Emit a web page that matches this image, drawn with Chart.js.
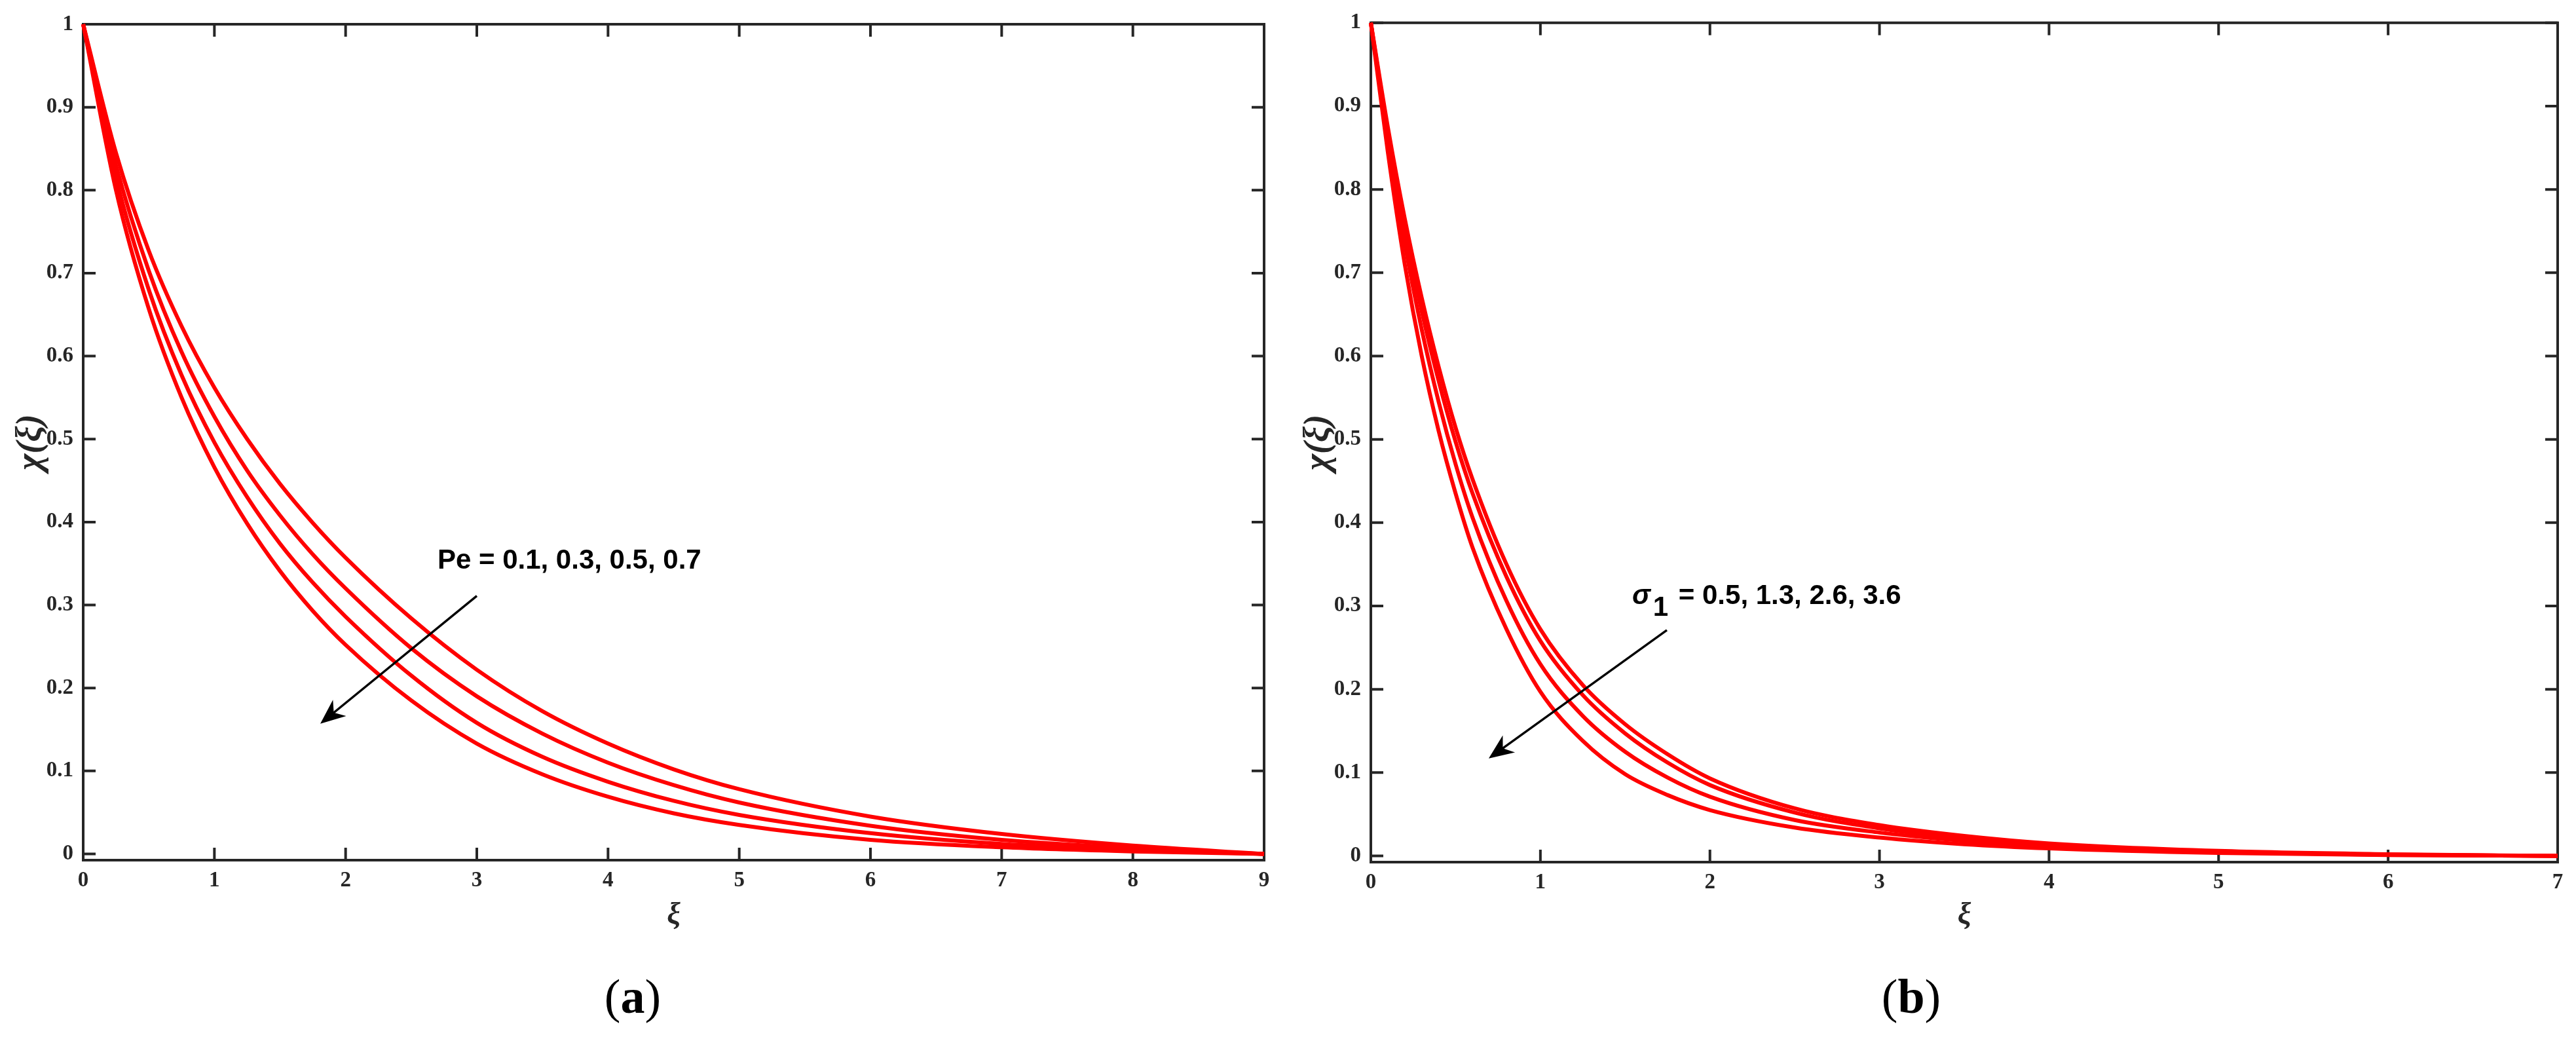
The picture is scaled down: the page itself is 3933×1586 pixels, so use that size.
<!DOCTYPE html>
<html>
<head>
<meta charset="utf-8">
<script src="https://cdn.jsdelivr.net/npm/chart.js@4.4.1/dist/chart.umd.min.js"></script>
<style>
  html, body { margin: 0; padding: 0; background: #fff; }
  body { width: 3933px; height: 1586px; position: relative; overflow: hidden; }
  canvas { position: absolute; top: 0; }
  .caption { position: absolute; top: 1484px; line-height: 1; font-family: "Liberation Serif", serif; font-size: 74px; color: #000; transform: translateX(-50%); }
</style>
</head>
<body>
<canvas id="chartA" width="1966" height="1586" style="left:0"></canvas>
<canvas id="chartB" width="1967" height="1586" style="left:1966px"></canvas>
<div class="caption" style="left:966px">(<b>a</b>)</div>
<div class="caption" style="left:2918px">(<b>b</b>)</div>
<script>
// panel (a): chi(xi) for Pe = 0.1, 0.3, 0.5, 0.7
const xiA = [0, 0.25, 0.5, 0.75, 1, 1.25, 1.5, 1.75, 2, 2.5, 3, 3.5, 4, 4.5, 5, 6, 7, 8, 9];
const chiPe01 = [1, 0.845, 0.727, 0.636, 0.562, 0.500, 0.446, 0.399, 0.357, 0.284, 0.222, 0.172, 0.133, 0.102, 0.078, 0.045, 0.024, 0.010, 0];
const chiPe03 = [1, 0.830, 0.703, 0.605, 0.527, 0.462, 0.408, 0.361, 0.320, 0.248, 0.190, 0.145, 0.110, 0.083, 0.062, 0.034, 0.017, 0.007, 0];
const chiPe05 = [1, 0.815, 0.680, 0.577, 0.496, 0.430, 0.374, 0.327, 0.286, 0.215, 0.158, 0.117, 0.087, 0.064, 0.047, 0.025, 0.012, 0.005, 0];
const chiPe07 = [1, 0.800, 0.657, 0.550, 0.466, 0.398, 0.341, 0.293, 0.252, 0.185, 0.133, 0.096, 0.069, 0.049, 0.035, 0.017, 0.008, 0.003, 0];

// panel (b): chi(xi) for sigma1 = 0.5, 1.3, 2.6, 3.6
const xiB = [0, 0.1, 0.2, 0.3, 0.4, 0.5, 0.6, 0.8, 1.0, 1.25, 1.5, 1.75, 2.0, 2.5, 3.0, 3.5, 4, 5, 6, 7];
const chiS05 = [1, 0.875, 0.765, 0.670, 0.587, 0.514, 0.452, 0.350, 0.272, 0.205, 0.158, 0.122, 0.093, 0.057, 0.037, 0.024, 0.015, 0.006, 0.002, 0];
const chiS13 = [1, 0.868, 0.752, 0.654, 0.570, 0.497, 0.435, 0.335, 0.258, 0.193, 0.147, 0.112, 0.085, 0.052, 0.033, 0.021, 0.013, 0.005, 0.0015, 0];
const chiS26 = [1, 0.858, 0.735, 0.632, 0.545, 0.470, 0.406, 0.306, 0.230, 0.168, 0.125, 0.094, 0.071, 0.043, 0.028, 0.018, 0.011, 0.0045, 0.0012, 0];
const chiS36 = [1, 0.845, 0.710, 0.600, 0.510, 0.435, 0.370, 0.272, 0.197, 0.138, 0.098, 0.073, 0.055, 0.034, 0.022, 0.014, 0.009, 0.0035, 0.001, 0];

// tick labels
const yTicks = [0, 0.1, 0.2, 0.3, 0.4, 0.5, 0.6, 0.7, 0.8, 0.9, 1];
const xTicksA = [0, 1, 2, 3, 4, 5, 6, 7, 8, 9];
const xTicksB = [0, 1, 2, 3, 4, 5, 6, 7];

// annotation text + arrow, in data units
const noteA = { parts: [{ t: 'Pe = 0.1, 0.3, 0.5, 0.7' }], at: [2.70, 0.344], from: [3.0, 0.311], to: [1.807, 0.157] };
const noteB = { parts: [{ t: 'σ', italic: true }, { t: '1', dy: 18, gap: 4 }, { t: ' = 0.5, 1.3, 2.6, 3.6', gap: 4 }], at: [1.541, 0.302], from: [1.746, 0.271], to: [0.695, 0.117] };

const AXIS = '#262626';
const RED = '#ff0000';
const TICK = 19;
const serif = '"Liberation Serif", "Times New Roman", serif';
const sans = '"Liberation Sans", Arial, sans-serif';

const fmt = v => Number(v.toFixed(1)).toString();

// matlab-like box with inward ticks on all four sides, plus the arrow note
const boxAndNote = {
  id: 'boxAndNote',
  beforeDatasetsDraw(chart) {
    const { ctx, chartArea: a, scales: { x, y } } = chart;
    ctx.save();
    ctx.strokeStyle = AXIS;
    ctx.lineWidth = 4;
    ctx.strokeRect(a.left, a.top, a.right - a.left, a.bottom - a.top);
    ctx.beginPath();
    x.ticks.forEach(t => {
      const px = x.getPixelForValue(t.value);
      ctx.moveTo(px, a.bottom); ctx.lineTo(px, a.bottom - TICK);
      ctx.moveTo(px, a.top); ctx.lineTo(px, a.top + TICK);
    });
    y.ticks.forEach(t => {
      const py = y.getPixelForValue(t.value);
      ctx.moveTo(a.left, py); ctx.lineTo(a.left + TICK, py);
      ctx.moveTo(a.right, py); ctx.lineTo(a.right - TICK, py);
    });
    ctx.stroke();
    ctx.restore();
  },
  afterDatasetsDraw(chart, args, opts) {
    const note = opts.note;
    if (!note) return;
    const { ctx, scales: { x, y } } = chart;
    ctx.save();
    // arrow
    const x0 = x.getPixelForValue(note.from[0]), y0 = y.getPixelForValue(note.from[1]);
    const x1 = x.getPixelForValue(note.to[0]), y1 = y.getPixelForValue(note.to[1]);
    const ang = Math.atan2(y1 - y0, x1 - x0);
    const L = 38, W = 16;
    const c = Math.cos(ang), s = Math.sin(ang);
    ctx.strokeStyle = '#000';
    ctx.fillStyle = '#000';
    ctx.lineWidth = 3.5;
    ctx.beginPath();
    ctx.moveTo(x0, y0);
    ctx.lineTo(x1 - c * L * 0.6, y1 - s * L * 0.6);
    ctx.stroke();
    ctx.beginPath();
    ctx.moveTo(x1, y1);
    ctx.lineTo(x1 - c * L - s * W, y1 - s * L + c * W);
    ctx.lineTo(x1 - c * L * 0.7, y1 - s * L * 0.7);
    ctx.lineTo(x1 - c * L + s * W, y1 - s * L - c * W);
    ctx.closePath();
    ctx.fill();
    // label
    let tx = x.getPixelForValue(note.at[0]);
    const ty = y.getPixelForValue(note.at[1]);
    ctx.textBaseline = 'alphabetic';
    ctx.textAlign = 'left';
    note.parts.forEach(p => {
      ctx.font = (p.italic ? 'italic ' : '') + 'bold 42px ' + sans;
      tx += p.gap || 0;
      ctx.fillText(p.t, tx, ty + (p.dy || 0));
      tx += ctx.measureText(p.t).width;
    });
    ctx.restore();
  }
};

function makeChart(id, xi, series, xTicks, xMax, pad, xAxisHeight, note) {
  return new Chart(document.getElementById(id), {
    type: 'line',
    data: {
      datasets: series.map(arr => ({
        data: xi.map((v, i) => ({ x: v, y: arr[i] })),
        borderColor: RED,
        borderWidth: 6,
        pointRadius: 0,
        cubicInterpolationMode: 'monotone',
        fill: false,
        clip: false
      }))
    },
    options: {
      responsive: false,
      animation: false,
      events: [],
      layout: { padding: pad },
      plugins: { legend: { display: false }, tooltip: { enabled: false }, boxAndNote: { note } },
      scales: {
        x: {
          type: 'linear',
          min: 0,
          max: xMax,
          afterBuildTicks: s => { s.ticks = xTicks.map(v => ({ value: v })); },
          afterFit: s => { s.height = xAxisHeight; },
          grid: { display: false, drawTicks: false },
          border: { display: false },
          ticks: { autoSkip: false, maxRotation: 0, padding: 12, color: AXIS, font: { family: serif, size: 33, weight: 'bold' }, callback: fmt },
          title: { display: true, text: 'ξ', color: AXIS, font: { family: serif, size: 46, weight: 'bold', style: 'italic' }, padding: { top: 0, bottom: 160 } }
        },
        y: {
          type: 'linear',
          min: -0.0075,
          max: 1,
          afterBuildTicks: s => { s.ticks = yTicks.map(v => ({ value: v })); },
          afterFit: s => { s.width = 127; },
          grid: { display: false, drawTicks: false },
          border: { display: false },
          ticks: { autoSkip: false, padding: 15, color: AXIS, font: { family: serif, size: 33, weight: 'bold' }, callback: fmt },
          title: { display: true, text: 'χ(ξ)', color: AXIS, font: { family: serif, size: 54, weight: 'bold', style: 'italic' }, padding: { top: 16, bottom: 0 } }
        }
      }
    },
    plugins: [boxAndNote]
  });
}

makeChart('chartA', xiA, [chiPe01, chiPe03, chiPe05, chiPe07], xTicksA, 9, { left: 0, right: 36, top: 37, bottom: 0 }, 273, noteA);
makeChart('chartB', xiB, [chiS05, chiS13, chiS26, chiS36], xTicksB, 7, { left: 0, right: 28, top: 34, bottom: 0 }, 270, noteB);
</script>
</body>
</html>
